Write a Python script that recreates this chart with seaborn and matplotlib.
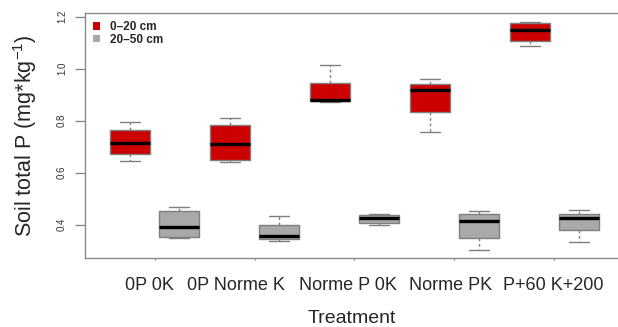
import matplotlib
matplotlib.use("Agg")
import matplotlib.pyplot as plt
import matplotlib.transforms as mtransforms
from matplotlib.patches import Patch
import seaborn as sns
import numpy as np
import pandas as pd

#%% Data: five-number summaries (min, q1, median, q3, max)
treatments = ["0P 0K", "0P Norme K", "Norme P 0K", "Norme PK", "P+60 K+200"]
depths = ["0\u201320 cm", "20\u201350 cm"]

top_0_20 = [
    [0.644, 0.673, 0.714, 0.763, 0.796],
    [0.641, 0.649, 0.712, 0.785, 0.809],
    [0.873, 0.874, 0.880, 0.946, 1.013],
    [0.755, 0.833, 0.919, 0.941, 0.960],
    [1.088, 1.107, 1.148, 1.176, 1.178],
]
sub_20_50 = [
    [0.350, 0.351, 0.391, 0.451, 0.469],
    [0.338, 0.345, 0.356, 0.398, 0.435],
    [0.399, 0.405, 0.425, 0.438, 0.442],
    [0.303, 0.350, 0.413, 0.440, 0.451],
    [0.332, 0.378, 0.426, 0.442, 0.455],
]

colors = {depths[0]: "#CD0000", depths[1]: "#A9A9A9"}

# long-form table for seaborn
rows = []
for t, a, b in zip(treatments, top_0_20, sub_20_50):
    for v in a:
        rows.append((t, depths[0], v))
    for v in b:
        rows.append((t, depths[1], v))
df = pd.DataFrame(rows, columns=["Treatment", "Depth", "P"])

#%% Plot
sns.set_style("white")
plt.rcParams["font.family"] = ["Liberation Sans", "DejaVu Sans"]
plt.rcParams["mathtext.fontset"] = "custom"
plt.rcParams["mathtext.rm"] = "Liberation Sans"

fig = plt.figure(figsize=(6.18, 3.27), dpi=100)
ax = fig.add_axes([85 / 618, 69 / 327, 1 - 85 / 618, 245 / 327])

edge = "#7f7f7f"
sns.boxplot(
    data=df, x="Treatment", y="P", hue="Depth", order=treatments,
    hue_order=depths, palette=colors, width=0.98, gap=0.18,
    linecolor=edge, linewidth=1, saturation=1, ax=ax,
    medianprops={"color": "black", "linewidth": 2.4},
    whiskerprops={"color": edge, "linestyle": (0, (2, 2)), "linewidth": 1},
    capprops={"color": edge, "linewidth": 1},
    boxprops={"edgecolor": edge, "linewidth": 1},
    showfliers=False, legend=False,
)

ax.set_xlim(-0.70, 4.64)
ax.set_ylim(0.272, 1.214)

for side in ["left", "top", "bottom"]:
    ax.spines[side].set_color("#8a8a8a")
    ax.spines[side].set_linewidth(1)
ax.spines["right"].set_visible(False)

ax.set_yticks([0.4, 0.6, 0.8, 1.0, 1.2])
ax.set_yticklabels(["0.4", "0.6", "0.8", "1.0", "1.2"], rotation=90,
                   va="center", fontsize=7)
ax.tick_params(axis="y", length=7, width=1, color="#8a8a8a", pad=6,
               labelcolor="#333333", left=True)
ax.tick_params(axis="x", length=1.5, width=1, color="#8a8a8a", pad=12,
               labelsize=13, bottom=True)
ax.set_xticks(range(len(treatments)))
ax.set_xticklabels(treatments)

# the treatment labels sit a little left of the group centres
shifts = [-5, -19, -7, -4, -1]
for lab, dx in zip(ax.get_xticklabels(), shifts):
    lab.set_transform(lab.get_transform() +
                      mtransforms.ScaledTranslation(dx / 100, 0, fig.dpi_scale_trans))

ax.set_xlabel("Treatment", fontsize=14, labelpad=12)
ax.set_ylabel("Soil total P (mg*kg$\\mathregular{^{-1}}$)", fontsize=15.5, labelpad=13)

handles = [Patch(facecolor=colors[d], edgecolor="none", label=d) for d in depths]
ax.legend(handles=handles, loc="upper left", frameon=False,
          handlelength=0.6, handleheight=0.6, handletextpad=0.8,
          labelspacing=0.05, borderaxespad=0.3,
          prop={"weight": "bold", "size": 8.5}, bbox_to_anchor=(0.0, 1.0))

fig.savefig("out.png", dpi=100)
